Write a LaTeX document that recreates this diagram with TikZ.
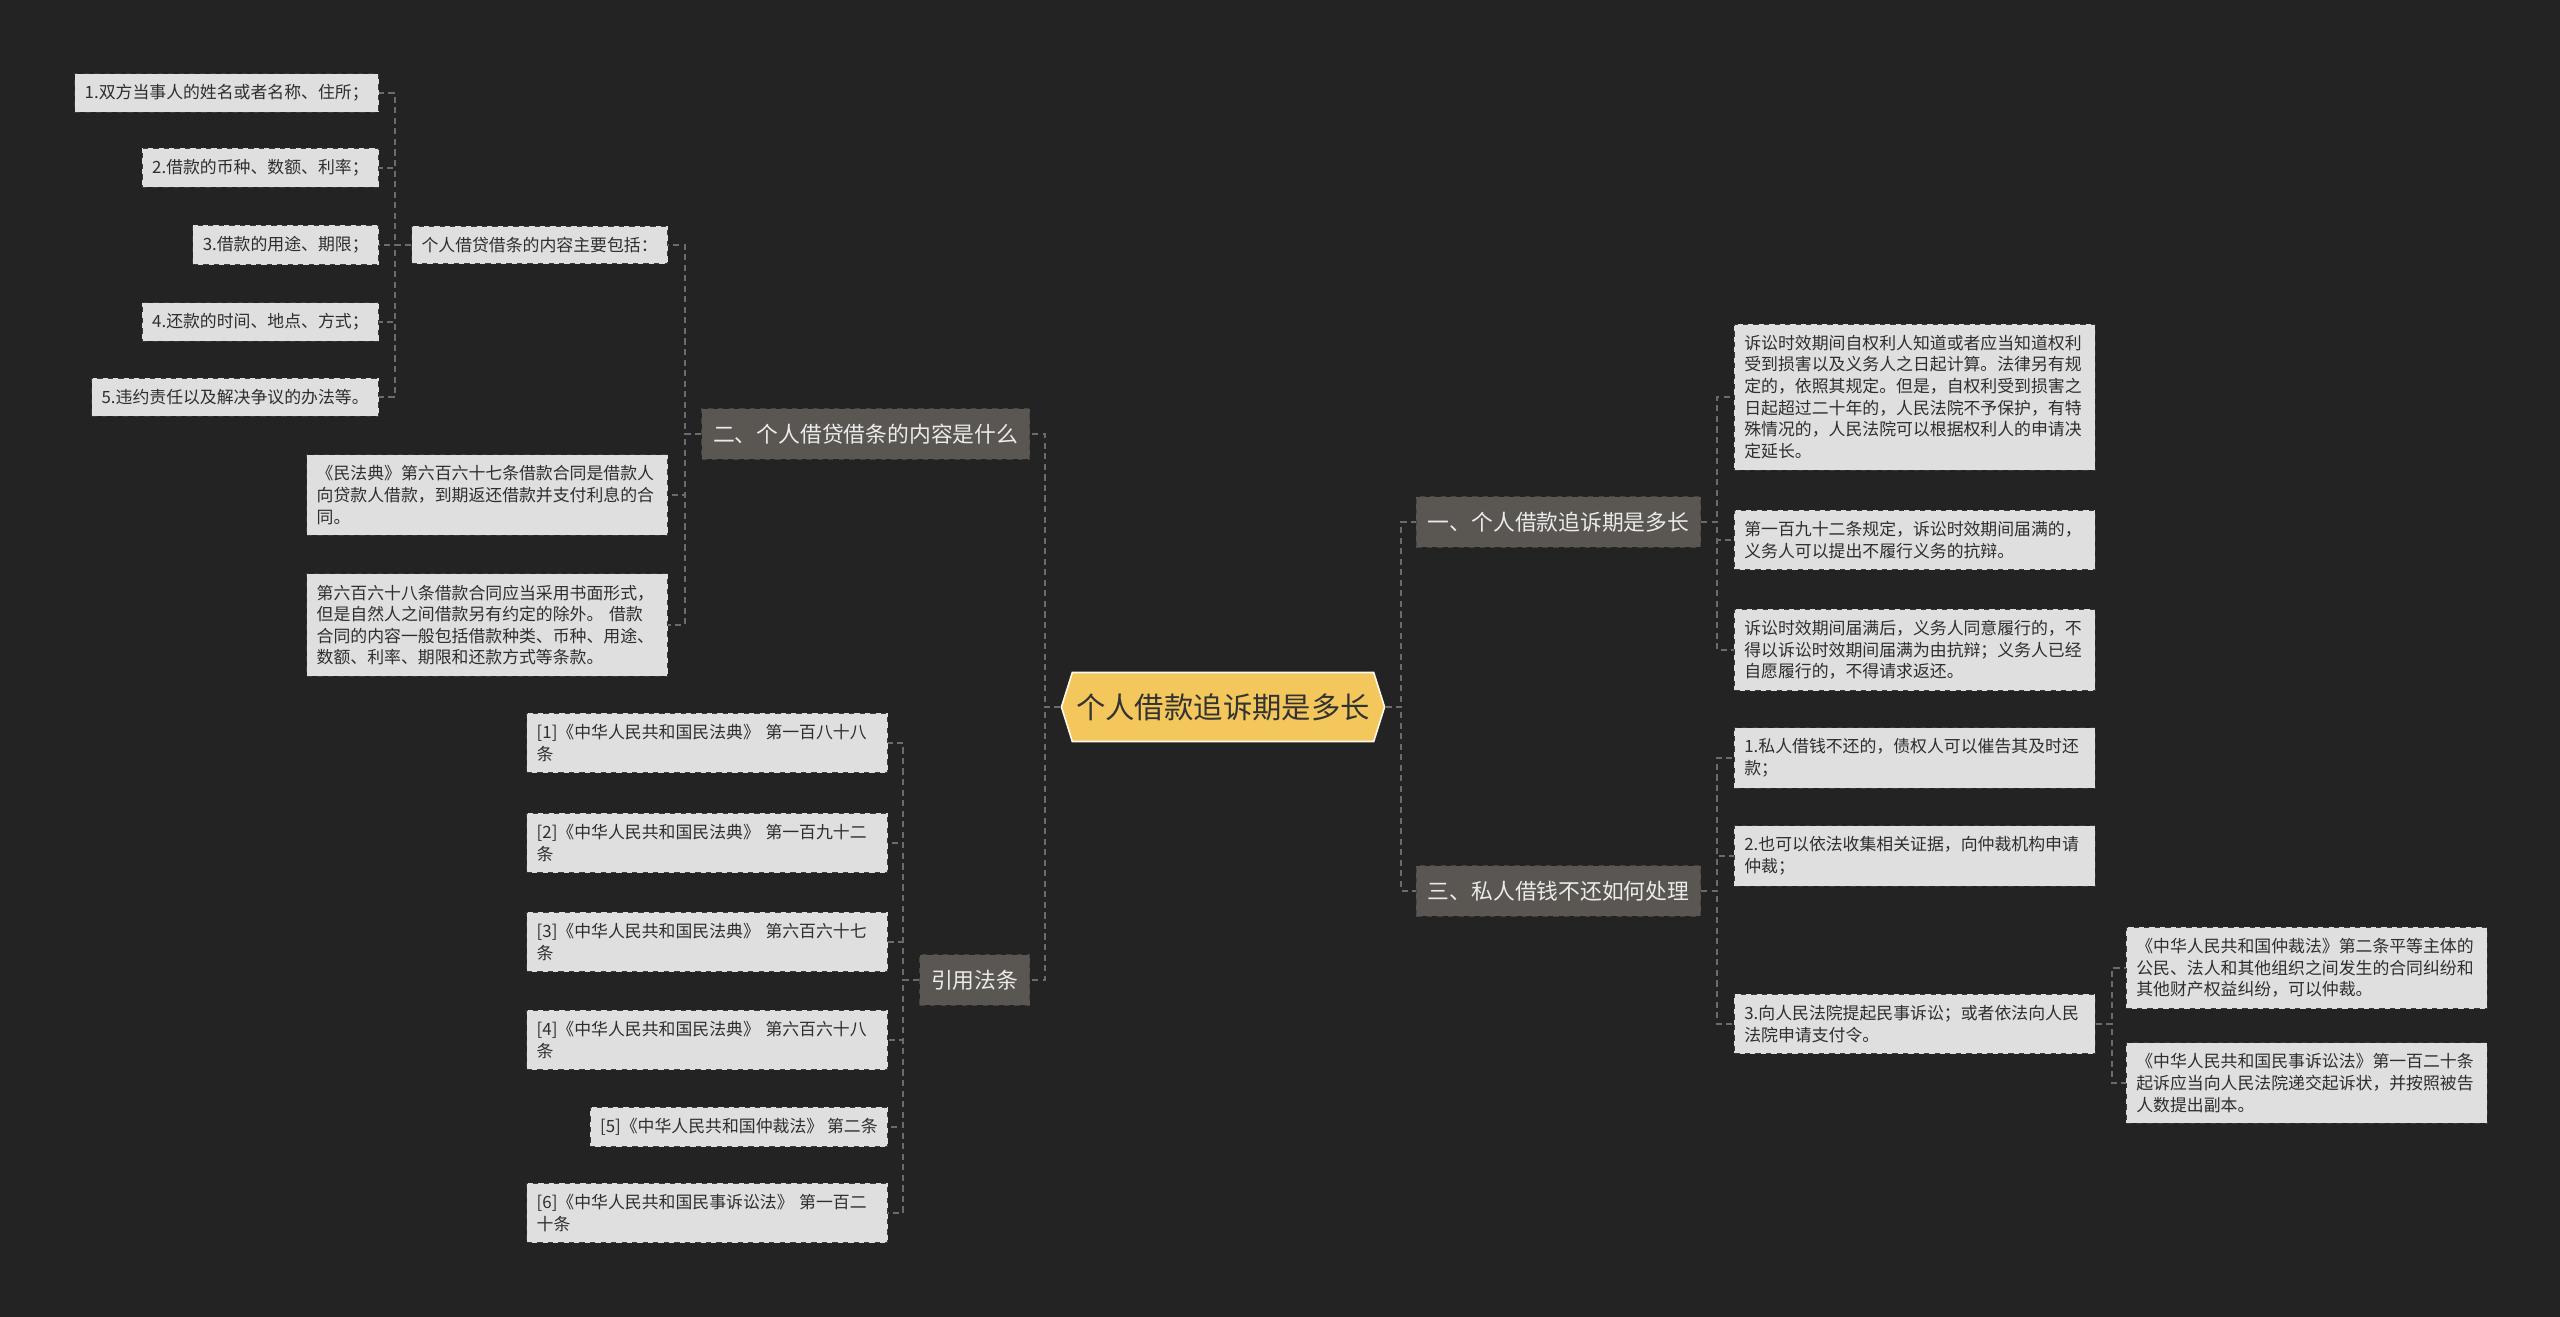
\documentclass[tikz,border=0pt]{standalone}
\usepackage{fontspec}
\setmainfont{Noto Sans CJK SC}
\usepackage{tikz}
\usetikzlibrary{shapes.symbols}
\definecolor{bgdark}{HTML}{232323}
\definecolor{leaffill}{HTML}{DFDFDF}
\definecolor{leafline}{HTML}{3A3A3A}
\definecolor{topicfill}{HTML}{5A5652}
\definecolor{topicline}{HTML}{46433F}
\definecolor{rootfill}{HTML}{F3C75B}
\definecolor{wire}{HTML}{6B6B6B}

\begin{document}
\begin{tikzpicture}[x=0.02cm, y=-0.02cm,
  root/.style={signal, signal to=west and east, signal pointer angle=145, draw=white!90!rootfill, line width=0.9pt, fill=rootfill, text=black!80, font=\fontsize{16.7pt}{20pt}\selectfont, inner xsep=0.08cm, minimum height=1.38cm},
  topic/.style={draw=topicline, dashed, fill=topicfill, text=white!92!black, font=\fontsize{12.4pt}{15pt}\selectfont, inner xsep=0.23cm, inner ysep=0pt, minimum height=1.02cm},
  leaf/.style={draw=leafline, dashed, fill=leaffill, text=black!82, font=\fontsize{9.6pt}{12.3pt}\selectfont, inner xsep=0.2cm, inner ysep=0.22cm},
  para/.style={leaf, text width=6.82cm, align=left},
  link/.style={draw=wire, line width=1.1pt, dash pattern=on 3.5pt off 2.5pt}]
\fill[bgdark] (0,0) rectangle (2560,1317);
\useasboundingbox (0,0) rectangle (2560,1317);

\node[root] (root) at (1223,707) {个人借款追诉期是多长};

\node[topic, anchor=east] (neirong) at (1030,434) {二、个人借贷借条的内容是什么};
\node[topic, anchor=east] (fatiao) at (1030,980) {引用法条};
\node[topic, anchor=west] (suqi) at (1416,522) {一、个人借款追诉期是多长};
\node[topic, anchor=west] (chuli) at (1416,891) {三、私人借钱不还如何处理};

\node[leaf, anchor=east] (baokuo) at (668,245) {个人借贷借条的内容主要包括：};
\node[para, anchor=east] (minfa1) at (668,495) {《民法典》第六百六十七条借款合同是借款人\\向贷款人借款，到期返还借款并支付利息的合\\同。};
\node[para, anchor=east] (minfa2) at (668,625) {第六百六十八条借款合同应当采用书面形式，\\但是自然人之间借款另有约定的除外。 借款\\合同的内容一般包括借款种类、币种、用途、\\数额、利率、期限和还款方式等条款。};

\node[leaf, anchor=east] (item1) at (379,93) {1.双方当事人的姓名或者名称、住所；};
\node[leaf, anchor=east] (item2) at (379,168) {2.借款的币种、数额、利率；};
\node[leaf, anchor=east] (item3) at (379,245) {3.借款的用途、期限；};
\node[leaf, anchor=east] (item4) at (379,322) {4.还款的时间、地点、方式；};
\node[leaf, anchor=east] (item5) at (379,397) {5.违约责任以及解决争议的办法等。};

\node[para, anchor=east] (ref1) at (888,743) {[1]《中华人民共和国民法典》 第一百八十八\\条};
\node[para, anchor=east] (ref2) at (888,843) {[2]《中华人民共和国民法典》 第一百九十二\\条};
\node[para, anchor=east] (ref3) at (888,942) {[3]《中华人民共和国民法典》 第六百六十七\\条};
\node[para, anchor=east] (ref4) at (888,1040) {[4]《中华人民共和国民法典》 第六百六十八\\条};
\node[leaf, anchor=east] (ref5) at (888,1127) {[5]《中华人民共和国仲裁法》 第二条};
\node[para, anchor=east] (ref6) at (888,1213) {[6]《中华人民共和国民事诉讼法》 第一百二\\十条};

\node[para, anchor=west] (shixiao1) at (1734,397) {诉讼时效期间自权利人知道或者应当知道权利\\受到损害以及义务人之日起计算。法律另有规\\定的，依照其规定。但是，自权利受到损害之\\日起超过二十年的，人民法院不予保护，有特\\殊情况的，人民法院可以根据权利人的申请决\\定延长。};
\node[para, anchor=west] (shixiao2) at (1734,540) {第一百九十二条规定，诉讼时效期间届满的，\\义务人可以提出不履行义务的抗辩。};
\node[para, anchor=west] (shixiao3) at (1734,650) {诉讼时效期间届满后，义务人同意履行的，不\\得以诉讼时效期间届满为由抗辩；义务人已经\\自愿履行的，不得请求返还。};

\node[para, anchor=west] (way1) at (1734,758) {1.私人借钱不还的，债权人可以催告其及时还\\款；};
\node[para, anchor=west] (way2) at (1734,856) {2.也可以依法收集相关证据，向仲裁机构申请\\仲裁；};
\node[para, anchor=west] (way3) at (1734,1024) {3.向人民法院提起民事诉讼；或者依法向人民\\法院申请支付令。};

\node[para, anchor=west] (zhongcai) at (2126,968) {《中华人民共和国仲裁法》第二条平等主体的\\公民、法人和其他组织之间发生的合同纠纷和\\其他财产权益纠纷，可以仲裁。};
\node[para, anchor=west] (susong) at (2126,1083) {《中华人民共和国民事诉讼法》第一百二十条\\起诉应当向人民法院递交起诉状，并按照被告\\人数提出副本。};

\foreach \c in {neirong,fatiao} \draw[link] (root.west) -- ++(-16,0) |- (\c.east);
\foreach \c in {suqi,chuli} \draw[link] (root.east) -- ++(16,0) |- (\c.west);
\foreach \c in {baokuo,minfa1,minfa2} \draw[link] (neirong.west) -- ++(-16,0) |- (\c.east);
\foreach \c in {item1,item2,item3,item4,item5} \draw[link] (baokuo.west) -- ++(-16,0) |- (\c.east);
\foreach \c in {ref1,ref2,ref3,ref4,ref5,ref6} \draw[link] (fatiao.west) -- ++(-16,0) |- (\c.east);
\foreach \c in {shixiao1,shixiao2,shixiao3} \draw[link] (suqi.east) -- ++(16,0) |- (\c.west);
\foreach \c in {way1,way2,way3} \draw[link] (chuli.east) -- ++(16,0) |- (\c.west);
\foreach \c in {zhongcai,susong} \draw[link] (way3.east) -- ++(16,0) |- (\c.west);
\end{tikzpicture}
\end{document}
